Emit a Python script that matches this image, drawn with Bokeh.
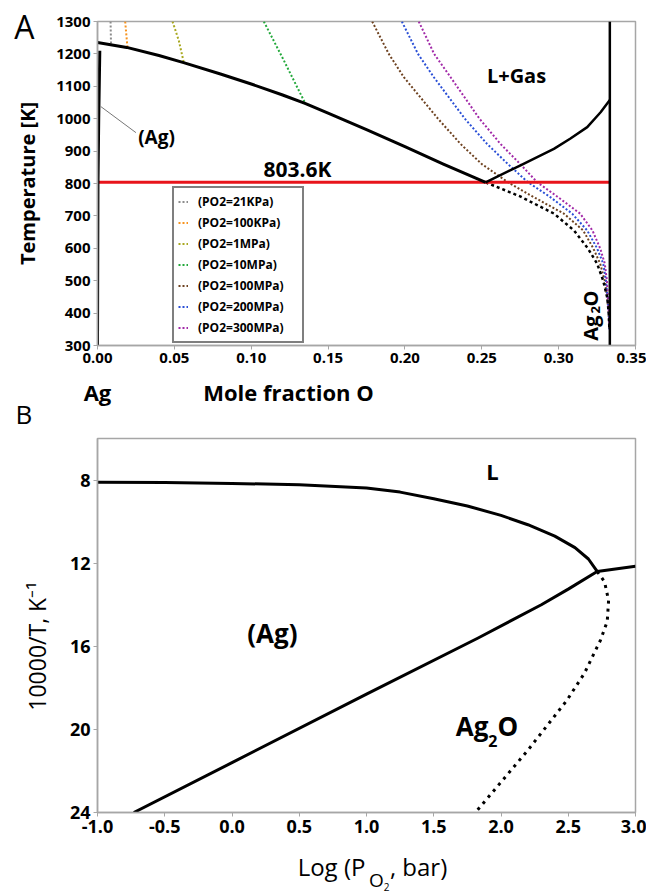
import math
from bokeh.plotting import figure
from bokeh.models import (Label, Legend, LegendItem, Range1d, FixedTicker, NumeralTickFormatter,
                          LinearAxis, Title)
from bokeh.layouts import column
from bokeh.embed import file_html
from bokeh.resources import INLINE

FONT = "Open Sans"

# ---------------- Panel A data ----------------
a_x_ticks = [0.00, 0.05, 0.10, 0.15, 0.20, 0.25, 0.30, 0.35]
a_T_ticks = [300, 400, 500, 600, 700, 800, 900, 1000, 1100, 1200, 1300]

x_ag2o = 0.3333
T_eut = 803.6

liq_x = [0.000, 0.019, 0.040, 0.056, 0.080, 0.100, 0.120, 0.135, 0.150, 0.175, 0.200, 0.225, 0.2525]
liq_T = [1235, 1220, 1195, 1173, 1138, 1107, 1074, 1047, 1017, 966, 914, 860, 803.6]

gas_x = [0.2525, 0.2752, 0.2969, 0.3077, 0.3186, 0.3273, 0.3333]
gas_T = [803.6, 856, 907, 939, 974, 1020, 1058]

solvus_x = [0.0, 0.0003, 0.0008, 0.0013, 0.0015]
solvus_T = [300, 800, 1000, 1150, 1210]

leader_x = [0.002, 0.025]
leader_T = [1038, 957]

po2_labels = ["(PO2=21KPa)", "(PO2=100KPa)", "(PO2=1MPa)", "(PO2=10MPa)",
              "(PO2=100MPa)", "(PO2=200MPa)", "(PO2=300MPa)"]

x_21kpa = [0.0085, 0.0088]
T_21kpa = [1300, 1229]
x_100kpa = [0.0180, 0.0195]
T_100kpa = [1300, 1219]
x_1mpa = [0.0488, 0.0529, 0.0561]
T_1mpa = [1300, 1241, 1174]
x_10mpa = [0.1082, 0.1212, 0.1353]
T_10mpa = [1300, 1180, 1046]
T_high = [1300, 1200, 1128, 1000, 922, 860, 804, 760, 707, 655, 600, 553, 500, 448, 400, 350]
x_100mpa = [0.1787, 0.1895, 0.1993, 0.2215, 0.2362, 0.2500, 0.2670, 0.2830, 0.3034, 0.3160, 0.3225, 0.3270, 0.3300, 0.3316, 0.3325, 0.3330]
x_200mpa = [0.1980, 0.2085, 0.2188, 0.2390, 0.2535, 0.2670, 0.2800, 0.2940, 0.3088, 0.3186, 0.3250, 0.3290, 0.3308, 0.3318, 0.3326, 0.3330]
x_300mpa = [0.2090, 0.2190, 0.2297, 0.2485, 0.2622, 0.2750, 0.2860, 0.2990, 0.3140, 0.3220, 0.3270, 0.3300, 0.3314, 0.3320, 0.3327, 0.3330]

low_x = [0.2525, 0.2750, 0.2970, 0.3100, 0.3190, 0.3250, 0.3290, 0.3316, 0.3326, 0.3330]
low_T = [803.6, 760, 707, 655, 600, 553, 500, 448, 400, 350]

# ---------------- Panel B data ----------------
b_x_ticks = [-1.0, -0.5, 0.0, 0.5, 1.0, 1.5, 2.0, 2.5, 3.0]
b_y_ticks = [8, 12, 16, 20, 24]

bliq_x = [-1.0, -0.5, 0.0, 0.5, 1.0, 1.25, 1.5, 1.75, 2.0, 2.2, 2.4, 2.55, 2.65, 2.715]
bliq_y = [8.10, 8.12, 8.16, 8.23, 8.38, 8.58, 8.90, 9.25, 9.70, 10.15, 10.7, 11.25, 11.8, 12.4]

bgas_x = [2.715, 3.0]
bgas_y = [12.4, 12.15]

bag_x = [-0.73, 0.0, 1.0, 1.83, 2.3, 2.5, 2.715]
bag_y = [24.0, 21.6, 18.3, 15.6, 14.0, 13.25, 12.4]

bdec_x = [2.715, 2.77, 2.80, 2.79, 2.74, 2.62, 2.49, 2.2, 1.81]
bdec_y = [12.4, 12.9, 13.8, 14.8, 15.7, 17.3, 18.6, 21.0, 24.0]

AXIS_GRAY = "#a6a6a6"


def style(p, tick_size):
    p.grid.visible = False
    p.outline_line_color = AXIS_GRAY
    p.outline_line_width = 1.5
    for ax in (p.xaxis, p.yaxis):
        ax.axis_line_color = AXIS_GRAY
        ax.axis_line_width = 1.5
        ax.major_tick_line_color = AXIS_GRAY
        ax.major_tick_out = 4
        ax.major_tick_in = 0
        ax.minor_tick_line_color = None
        ax.major_label_text_font = FONT
        ax.major_label_text_font_style = "bold"
        ax.major_label_text_font_size = tick_size
        ax.major_label_text_color = "black"
        ax.major_label_standoff = 3


def text_axis(p, side, ticks, texts, size, bold, standoff, orientation="horizontal"):
    ax = LinearAxis(ticker=FixedTicker(ticks=ticks),
                    major_label_overrides={t: s for t, s in zip(ticks, texts)},
                    axis_line_color=None, major_tick_line_color=None,
                    minor_tick_line_color=None, major_tick_out=0, major_tick_in=0,
                    major_label_standoff=standoff, major_label_text_font=FONT,
                    major_label_text_font_size=size,
                    major_label_text_font_style="bold" if bold else "normal",
                    major_label_text_color="black",
                    major_label_orientation=orientation)
    p.add_layout(ax, side)
    return ax


def lab(p, text, x, y, size, bold=True, align="center", angle=0.0):
    p.add_layout(Label(x=x, y=y, text=text, text_font=FONT, text_font_size=size,
                       text_font_style="bold" if bold else "normal",
                       text_align=align, text_baseline="middle", angle=angle,
                       text_color="black"))


# ---------------- Figure A ----------------
p1 = figure(width=646, height=373, x_range=Range1d(0, 0.35), y_range=Range1d(300, 1300),
            output_backend="svg", toolbar_location=None,
            min_border_left=97, min_border_right=11, min_border_top=21, min_border_bottom=28)
style(p1, "15px")
p1.xaxis.ticker = FixedTicker(ticks=a_x_ticks)
p1.xaxis.formatter = NumeralTickFormatter(format="0.00")
p1.yaxis.ticker = FixedTicker(ticks=a_T_ticks)
p1.yaxis.axis_label = "Temperature [K]"
p1.yaxis.axis_label_text_font = FONT
p1.yaxis.axis_label_text_font_size = "20px"
p1.yaxis.axis_label_text_font_style = "bold"
p1.yaxis.axis_label_text_color = "black"
p1.yaxis.axis_label_standoff = 12

# panel letter carried by a label-only axis
text_axis(p1, "left", [1285], ["A"], "32px", False, -23)

po2_colors = ["#8c8c8c", "#f7931e", "#a8a820", "#22a83a", "#6e4220", "#2a4fd6", "#a22aa8"]
po2_data = [(x_21kpa, T_21kpa), (x_100kpa, T_100kpa), (x_1mpa, T_1mpa), (x_10mpa, T_10mpa),
            (x_100mpa, T_high), (x_200mpa, T_high), (x_300mpa, T_high)]
po2_rs = []
for (xs, ts), c in zip(po2_data, po2_colors):
    r = p1.line(xs, ts, line_color=c, line_width=2, line_dash="2 2", line_join="round")
    po2_rs.append(r)

p1.line(low_x, low_T, line_color="black", line_width=2.5, line_dash="3 3")
p1.line([0, x_ag2o], [T_eut, T_eut], line_color="#e8141b", line_width=3)
p1.line(liq_x, liq_T, line_color="black", line_width=3, line_join="round")
p1.line(gas_x, gas_T, line_color="black", line_width=2.5, line_join="round")
p1.line(solvus_x, solvus_T, line_color="black", line_width=3)
p1.line([x_ag2o, x_ag2o], [300, 1300], line_color="black", line_width=2.5)
p1.line(leader_x, leader_T, line_color="#777777", line_width=1)

legend = Legend(items=[LegendItem(label=l, renderers=[r]) for l, r in zip(po2_labels, po2_rs)],
                location=(75, 2), label_text_font=FONT, label_text_font_size="12px",
                label_text_font_style="bold", label_text_color="black",
                glyph_width=10, glyph_height=19, label_height=19, spacing=2, padding=4,
                margin=0, label_standoff=10, label_width=100,
                border_line_color="black", border_line_width=2, background_fill_alpha=1)
p1.add_layout(legend)

lab(p1, "L+Gas", 0.2726, 1134, "20px")
lab(p1, "803.6K", 0.108, 845, "21px", align="left")
lab(p1, "(Ag)", 0.0384, 945, "19px")
lab(p1, "Ag", 0.3208, 315, "20px", align="left", angle=math.pi / 2)
lab(p1, "2", 0.3241, 399, "13px", align="left", angle=math.pi / 2)
lab(p1, "O", 0.3208, 420, "20px", align="left", angle=math.pi / 2)

# ---------------- Figure B ----------------
p2 = figure(width=646, height=522, x_range=Range1d(-1.0, 3.0), y_range=Range1d(24, 6),
            output_backend="svg", toolbar_location=None,
            min_border_left=97, min_border_right=11, min_border_top=62, min_border_bottom=82)
style(p2, "18px")
p2.xaxis.ticker = FixedTicker(ticks=b_x_ticks)
p2.xaxis.formatter = NumeralTickFormatter(format="0.0")
p2.yaxis.ticker = FixedTicker(ticks=b_y_ticks)

# panel letter (nearest the frame) and, above it, the x caption row of panel A
p2.add_layout(Title(text="B", align="left", offset=-82, standoff=14, vertical_align="bottom",
                    text_font=FONT, text_font_size="26px", text_font_style="normal",
                    text_color="black"), "above")
text_axis(p2, "above", [-1.0, 0.42], ["Ag", "Mole fraction O"], "22px", True, -20)

text_axis(p2, "left", [16.0], ["10000/T, K\u207b\u00b9"], "23px", False, 13, "vertical")
text_axis(p2, "below", [0.74, 1.387], ["Log (P", ", bar)"], "24px", False, 14)
text_axis(p2, "below", [1.074], ["O"], "19px", False, -19)
text_axis(p2, "below", [1.149], ["2"], "10px", False, -13)

p2.line(bliq_x, bliq_y, line_color="black", line_width=3, line_join="round")
p2.line(bgas_x, bgas_y, line_color="black", line_width=3)
p2.line(bag_x, bag_y, line_color="black", line_width=3, line_join="round")
p2.line(bdec_x, bdec_y, line_color="black", line_width=3, line_dash="3 5", line_join="round")

lab(p2, "L", 1.937, 7.57, "22px")
lab(p2, "(Ag)", 0.30, 15.38, "26px")
lab(p2, "Ag", 1.907, 19.86, "26px", align="right")
lab(p2, "2", 1.94, 20.55, "16px")
lab(p2, "O", 1.974, 19.86, "26px", align="left")

layout = column(p1, p2)
open("out.html", "w").write(file_html(layout, INLINE))
